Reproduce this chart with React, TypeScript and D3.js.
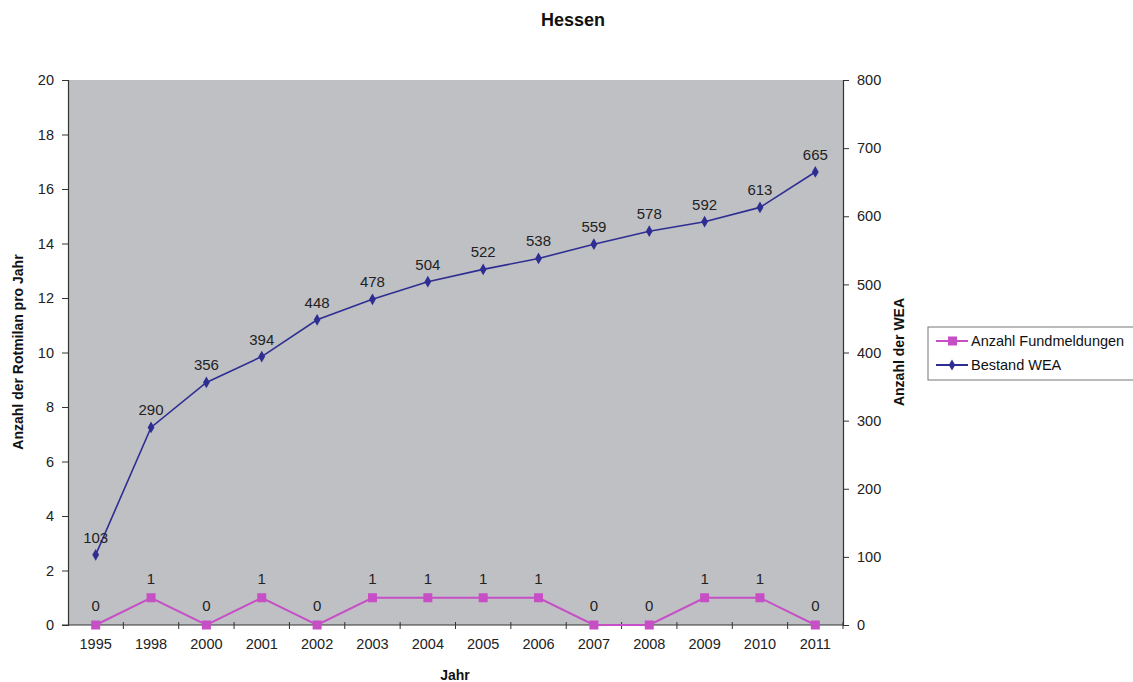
import React, { useEffect, useRef } from "react"
import * as d3 from "d3"

const years = ["1995", "1998", "2000", "2001", "2002", "2003", "2004", "2005", "2006", "2007", "2008", "2009", "2010", "2011"]
const fundmeldungen = [0, 1, 0, 1, 0, 1, 1, 1, 1, 0, 0, 1, 1, 0]
const bestandWEA = [103, 290, 356, 394, 448, 478, 504, 522, 538, 559, 578, 592, 613, 665]
const leftTicks = [0, 2, 4, 6, 8, 10, 12, 14, 16, 18, 20]
const rightTicks = [0, 100, 200, 300, 400, 500, 600, 700, 800]

const width = 1133
const height = 682
const font = "'Liberation Sans', Arial, sans-serif"
const pink = "#c64fc6"
const navy = "#2e2e92"

export default function App() {
  const ref = useRef<SVGSVGElement>(null)

  useEffect(() => {
    const svg = d3.select(ref.current)
    svg.selectAll("*").remove()
    const left = 68
    const right = 843
    const top = 80
    const bottom = 625

    const x = d3.scaleBand().domain(years).range([left, right])
    const yL = d3.scaleLinear().domain([0, 20]).range([bottom, top])
    const yR = d3.scaleLinear().domain([0, 800]).range([bottom, top])
    const cx = (d: string) => (x(d) as number) + x.bandwidth() / 2

    svg.append("rect").attr("width", width).attr("height", height).attr("fill", "#fff")
    svg.append("rect")
      .attr("x", left).attr("y", top)
      .attr("width", right - left).attr("height", bottom - top)
      .attr("fill", "#bfc0c4")

    const axisColor = "#333"
    // left axis
    const gl = svg.append("g").attr("transform", `translate(${left},0)`)
      .call(d3.axisLeft(yL).tickValues(leftTicks).tickSize(6).tickPadding(8))
    // right axis
    const gr = svg.append("g").attr("transform", `translate(${right},0)`)
      .call(d3.axisRight(yR).tickValues(rightTicks).tickSize(6).tickPadding(8))
    // bottom axis
    const gb = svg.append("g").attr("transform", `translate(0,${bottom})`)
      .call(d3.axisBottom(x).tickSize(0).tickPadding(14))
    gb.selectAll(".tick")
      .append("line")
      .attr("x1", x.bandwidth() / 2).attr("x2", x.bandwidth() / 2)
      .attr("y1", -3).attr("y2", 4)
      .attr("stroke", axisColor)
    for (const g of [gl, gr, gb]) {
      g.select(".domain").attr("stroke", axisColor).attr("stroke-width", 1.2)
      g.selectAll(".tick line").attr("stroke", axisColor)
      g.selectAll("text").attr("font-family", font).attr("font-size", 14.5).attr("fill", "#222")
    }
    gb.select(".domain").attr("d", `M${left - 6},0H${right}`)

    // blue line
    const lineR = d3.line<number>().x((_, i) => cx(years[i])).y((d) => yR(d))
    svg.append("path").datum(bestandWEA)
      .attr("d", lineR).attr("fill", "none").attr("stroke", navy).attr("stroke-width", 1.6)
    svg.selectAll(".dia").data(bestandWEA).join("path")
      .attr("d", d3.symbol(d3.symbolDiamond, 40)())
      .attr("transform", (d, i) => `translate(${cx(years[i])},${yR(d)})`)
      .attr("fill", navy)
    svg.selectAll(".lblR").data(bestandWEA).join("text")
      .attr("x", (_, i) => cx(years[i])).attr("y", (d) => yR(d) - 12)
      .attr("text-anchor", "middle").attr("font-family", font).attr("font-size", 15).attr("fill", "#222")
      .text((d) => d)

    // pink line
    const lineL = d3.line<number>().x((_, i) => cx(years[i])).y((d) => yL(d))
    svg.append("path").datum(fundmeldungen)
      .attr("d", lineL).attr("fill", "none").attr("stroke", pink).attr("stroke-width", 2)
    svg.selectAll(".sq").data(fundmeldungen).join("rect")
      .attr("x", (_, i) => cx(years[i]) - 4.5).attr("y", (d) => yL(d) - 4.5)
      .attr("width", 9).attr("height", 9).attr("fill", pink)
    svg.selectAll(".lblL").data(fundmeldungen).join("text")
      .attr("x", (_, i) => cx(years[i])).attr("y", (d) => yL(d) - 14)
      .attr("text-anchor", "middle").attr("font-family", font).attr("font-size", 15).attr("fill", "#222")
      .text((d) => d)

    // titles
    const bold = (t: string, xx: number, yy: number, rot = 0, size = 14) =>
      svg.append("text")
        .attr("transform", `translate(${xx},${yy}) rotate(${rot})`)
        .attr("text-anchor", "middle").attr("font-family", font).attr("font-weight", "bold")
        .attr("font-size", size).attr("fill", "#111").text(t)
    bold("Hessen", 573, 26, 0, 18)
    bold("Jahr", 455, 680)
    bold("Anzahl der Rotmilan pro Jahr", 23, 352, -90)
    bold("Anzahl der WEA", 904, 352, -90)

    // legend
    const lg = svg.append("g").attr("transform", "translate(928,327)")
    lg.append("rect").attr("width", 210).attr("height", 53)
      .attr("fill", "#fff").attr("stroke", "#777").attr("stroke-width", 1)
    const items = [
      { label: "Anzahl Fundmeldungen", color: pink, shape: "sq" },
      { label: "Bestand WEA", color: navy, shape: "dia" },
    ]
    items.forEach((it, i) => {
      const yy = 14 + i * 24
      lg.append("line").attr("x1", 8).attr("x2", 40).attr("y1", yy).attr("y2", yy)
        .attr("stroke", it.color).attr("stroke-width", 2)
      if (it.shape === "sq") {
        lg.append("rect").attr("x", 20).attr("y", yy - 4.5).attr("width", 9).attr("height", 9).attr("fill", it.color)
      } else {
        lg.append("path").attr("d", d3.symbol(d3.symbolDiamond, 36)())
          .attr("transform", `translate(24,${yy})`).attr("fill", it.color)
      }
      lg.append("text").attr("x", 43).attr("y", yy + 5)
        .attr("font-family", font).attr("font-size", 14.5).attr("fill", "#111").text(it.label)
    })
  }, [])

  return (
    <svg ref={ref} width={width} height={height}
      style={{ position: "absolute", left: 0, top: 0, display: "block" }} />
  )
}
